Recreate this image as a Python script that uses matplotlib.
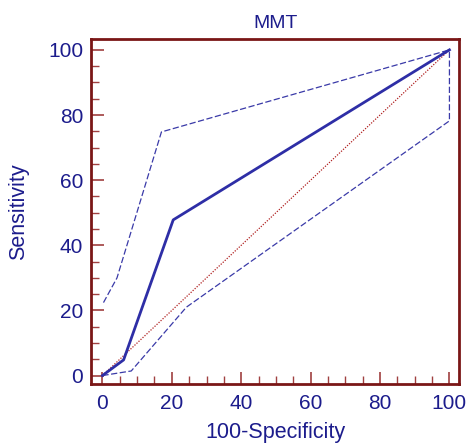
import matplotlib
matplotlib.use('Agg')
import matplotlib.pyplot as plt
from matplotlib.ticker import MultipleLocator

plt.rcParams['font.family'] = ['Liberation Sans', 'DejaVu Sans']

#ROC curve for MMT
fpr = [0, 6.1, 20.4, 100]
tpr = [0, 4.8, 47.8, 100]

#95% confidence bounds
upper_x = [0.3, 4.2, 17.0, 100]
upper_y = [22.4, 30.0, 74.8, 100]
lower_x = [0, 8.3, 24.2, 100, 100]
lower_y = [0, 1.4, 21.0, 78.2, 100]

blue = '#1c1c8c'
frame = '#7a1616'

fig = plt.figure(figsize=(4.69, 4.46), dpi=100)
ax = fig.add_axes([0.194, 0.139, 0.785, 0.774])

ax.plot([0, 100], [0, 100], color='#b02020', lw=0.9, ls=(0, (1, 1.2)))
ax.plot(upper_x, upper_y, color='#3a3aa8', lw=0.9, ls=(0, (5, 2)))
ax.plot(lower_x, lower_y, color='#3a3aa8', lw=0.9, ls=(0, (5, 2)))
ax.plot(fpr, tpr, color='#2e2ea6', lw=2.0)

ax.set_xlim(-3.3, 102.8)
ax.set_ylim(-2.6, 103.4)
ax.xaxis.set_major_locator(MultipleLocator(20))
ax.xaxis.set_minor_locator(MultipleLocator(5))
ax.yaxis.set_major_locator(MultipleLocator(20))
ax.yaxis.set_minor_locator(MultipleLocator(5))
ax.tick_params(which='both', direction='in', color='#a04040', labelcolor=blue,
               labelsize=15, top=False, right=False)
ax.tick_params(which='major', length=9, width=1.2)
ax.tick_params(which='minor', length=6, width=1.0)
ax.tick_params(axis='x', which='major', pad=7)
ax.tick_params(axis='y', which='major', pad=5.5)
for s in ax.spines.values():
    s.set_color(frame)
    s.set_linewidth(2.0)

ax.set_title('MMT', color=blue, fontsize=14, pad=8)
ax.set_xlabel('100-Specificity', color=blue, fontsize=15.5, labelpad=7)
ax.set_ylabel('Sensitivity', color=blue, fontsize=15.5, labelpad=14)

fig.savefig('out.png', dpi=100)
